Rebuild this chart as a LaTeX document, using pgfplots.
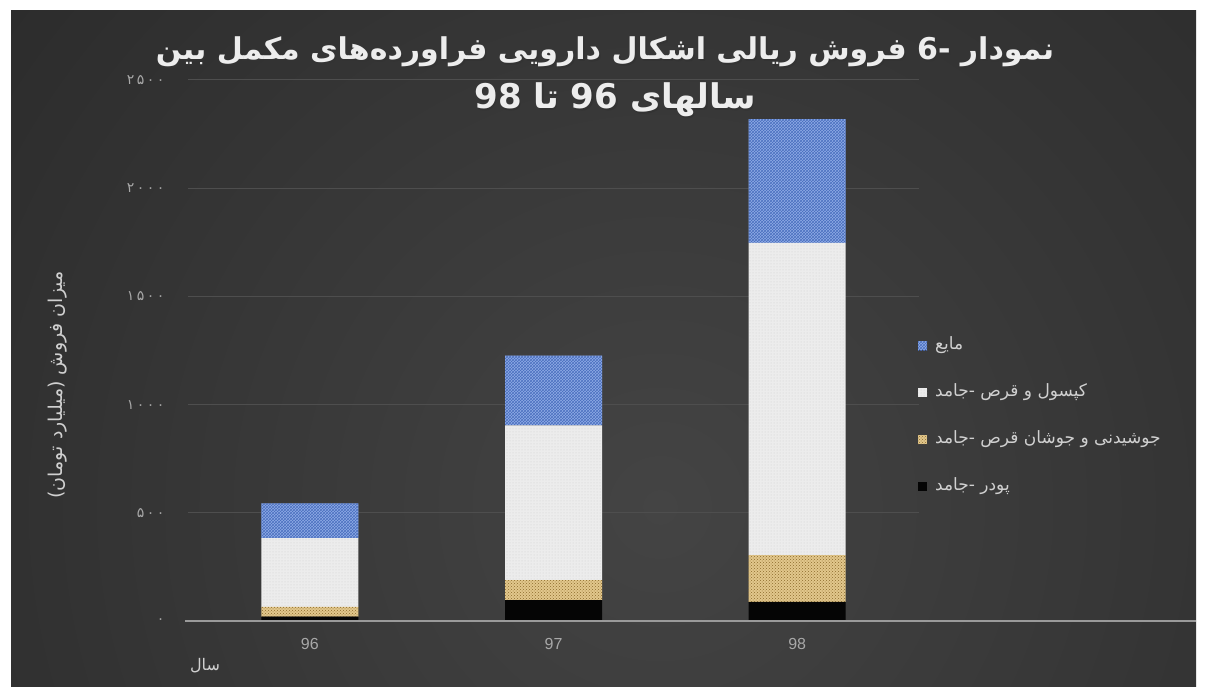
\documentclass[border=0pt]{standalone}
\usepackage{fontspec}
\usepackage{pgfplots}
\pgfplotsset{compat=1.18}
\usetikzlibrary{patterns}
\setmainfont{Liberation Sans}
\newfontfamily\arabicfont[Script=Arabic]{DejaVu Sans}
\newfontfamily\digitfont[Script=Arabic, LetterSpace=18]{DejaVu Sans}
\TeXXeTstate=1
\definecolor{bgin}{HTML}{444444}
\definecolor{bgout}{HTML}{1B1B1B}
\definecolor{gridc}{HTML}{4E4E4E}
\definecolor{axisc}{HTML}{9A9A9A}
\definecolor{tickc}{HTML}{A8A8A8}
\definecolor{textc}{HTML}{D0D0D0}
\definecolor{titlec}{HTML}{EDEDED}
\definecolor{bluec}{HTML}{8FACE6}
\definecolor{bluep}{HTML}{4A6FBF}
\definecolor{whitec}{HTML}{ECECEC}
\definecolor{whitep}{HTML}{CFCFCF}
\definecolor{goldc}{HTML}{E2C78C}
\definecolor{goldp}{HTML}{8C6B2C}
\definecolor{blackc}{HTML}{050505}
\begin{document}
\begin{tikzpicture}[x=1pt,y=1pt]
\useasboundingbox (0pt,0pt) rectangle (1205pt,687pt);
\fill[white] (0pt,0pt) rectangle (1205pt,687pt);
\begin{scope}
\clip (11pt,0pt) rectangle (1196pt,676pt);
\shade[inner color=bgin, outer color=bgout] (660pt,180pt) circle (1400pt);
\end{scope}
\begin{axis}[
  at={(188pt,66pt)}, anchor=south west, scale only axis,
  width=731pt, height=541pt,
  ybar stacked, bar width=97pt,
  xmin=-0.5, xmax=2.5, ymin=0, ymax=2500,
  xtick=data, xticklabels={96,97,98},
  ytick={0,500,1000,1500,2000,2500},
  yticklabels={۰,۵۰۰,۱۰۰۰,۱۵۰۰,۲۰۰۰,۲۵۰۰},
  yticklabel style={font=\digitfont\fontsize{14}{16}\selectfont, text=tickc, xshift=-20pt},
  xticklabel style={font=\fontsize{16}{18}\selectfont, text=tickc, yshift=-14pt},
  major tick length=0pt,
  axis line style={draw=none},
  ymajorgrids, grid style={gridc, line width=1pt},
  reverse legend,
  legend image code/.code={\fill[#1] (0pt,-4.5pt) rectangle (9pt,4.5pt);},
  legend cell align=left,
  legend style={at={(0.9986,0.525)}, anchor=north west, draw=none, fill=none,
    inner sep=0pt, row sep=30pt, column sep=6pt,
    font=\arabicfont\fontsize{17}{19}\selectfont, text=textc,
    nodes={inner sep=2pt, text height=10pt, text depth=3pt}},
]
\addplot[fill=blackc, draw=none] coordinates {(0,20) (1,97) (2,88)};
\addplot[fill=goldc, draw=none, postaction={pattern=crosshatch dots, pattern color=goldp}] coordinates {(0,45) (1,92) (2,216)};
\addplot[fill=whitec, draw=none, postaction={pattern=dots, pattern color=whitep}] coordinates {(0,318) (1,715) (2,1443)};
\addplot[fill=bluec, draw=none, postaction={pattern=crosshatch, pattern color=bluep}] coordinates {(0,161) (1,322) (2,572)};
\legend{{\mbox{جامد}\mbox{-}\ \mbox{پودر}},
        {\mbox{جامد}\mbox{-}\ \mbox{قرص}\ \mbox{جوشان}\ \mbox{و}\ \mbox{جوشیدنی}},
        {\mbox{جامد}\mbox{-}\ \mbox{قرص}\ \mbox{و}\ \mbox{کپسول}},
        {\mbox{مایع}}}
\end{axis}
\draw[axisc, line width=2pt] (185pt,66pt) -- (1196pt,66pt);
% title
\node[text=black!80, font=\arabicfont\bfseries\fontsize{30}{34}\selectfont] at (606.5pt,633.5pt)
  {\beginR نمودار \beginL-6\endL{} فروش ریالی اشکال دارویی فراورده‌های مکمل بین\endR};
\node[text=titlec, font=\arabicfont\bfseries\fontsize{30}{34}\selectfont] at (605pt,635pt)
  {\beginR نمودار \beginL-6\endL{} فروش ریالی اشکال دارویی فراورده‌های مکمل بین\endR};
\node[text=black!80, font=\arabicfont\bfseries\fontsize{34}{37}\selectfont] at (616.5pt,585.5pt)
  {\beginR سالهای \beginL96\endL{} تا \beginL98\endL\endR};
\node[text=titlec, font=\arabicfont\bfseries\fontsize{34}{37}\selectfont] at (615pt,587pt)
  {\beginR سالهای \beginL96\endL{} تا \beginL98\endL\endR};
% axis titles
\node[rotate=90, text=textc, font=\arabicfont\fontsize{19}{21}\selectfont] at (58pt,302pt)
  {\beginR میزان فروش (میلیارد تومان)\endR};
\node[text=textc, font=\arabicfont\fontsize{16}{18}\selectfont] at (205pt,21pt) {سال};
\end{tikzpicture}
\end{document}
